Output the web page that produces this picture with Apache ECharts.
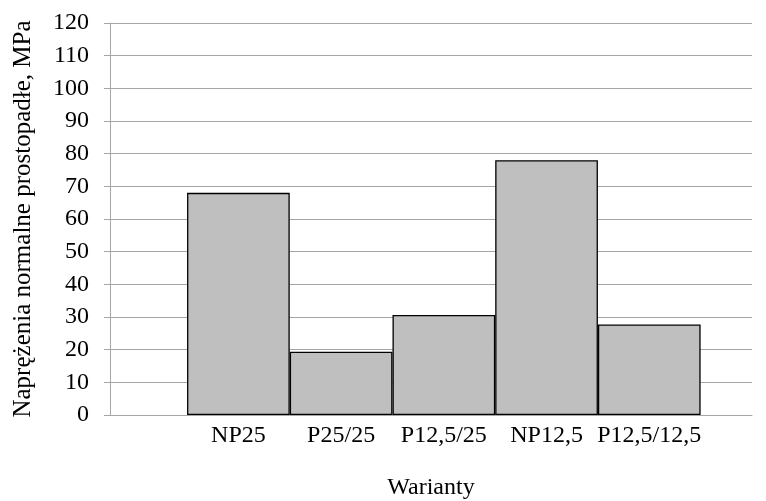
<!DOCTYPE html>
<html>
<head>
<meta charset="utf-8">
<script src="https://cdn.jsdelivr.net/npm/echarts@6/dist/echarts.min.js"></script>
<style>
  html, body { margin: 0; padding: 0; background: #fff; }
  #chart { width: 766px; height: 501px; }
</style>
</head>
<body>
<div id="chart"></div>
<script>
// Variants and their stresses (MPa)
const categories = ['NP25', 'P25/25', 'P12,5/25', 'NP12,5', 'P12,5/12,5'];
const values = [68, 19.4, 30.6, 78, 27.7];
const yTicks = [0, 10, 20, 30, 40, 50, 60, 70, 80, 90, 100, 110, 120];

const FONT = '"Liberation Serif", "Times New Roman", serif';
const GRID_COLOR = '#a6a6a6';

const chart = echarts.init(document.getElementById('chart'), null, { renderer: 'canvas' });

// Bars sit on a numeric x scale so each variant occupies one unit, touching its neighbours
const barData = values.map((v, i) => [i, v]);

chart.setOption({
  animation: false,
  backgroundColor: '#ffffff',
  grid: { left: 110, right: 14, top: 23, bottom: 86, containLabel: false, outerBoundsMode: 'none' },
  xAxis: {
    type: 'value',
    min: -1.25,
    max: 5,
    interval: 0.25,
    name: 'Warianty',
    nameLocation: 'middle',
    nameGap: 61,
    nameTextStyle: { fontFamily: FONT, fontSize: 24, color: '#000' },
    axisLine: { show: true, onZero: false, lineStyle: { color: GRID_COLOR, width: 1 } },
    axisTick: { show: false },
    splitLine: { show: false },
    axisLabel: {
      margin: 9,
      fontFamily: FONT,
      fontSize: 24,
      color: '#000',
      showMinLabel: false,
      showMaxLabel: false,
      formatter: function (val) {
        const idx = Math.round(val);
        return Math.abs(val - idx) < 1e-6 && idx >= 0 && idx < categories.length ? categories[idx] : '';
      }
    }
  },
  yAxis: {
    type: 'value',
    min: yTicks[0],
    max: yTicks[yTicks.length - 1],
    interval: yTicks[1] - yTicks[0],
    name: 'Naprężenia normalne prostopadłe, MPa',
    nameLocation: 'middle',
    nameGap: 74,
    nameRotate: 90,
    nameTextStyle: { fontFamily: FONT, fontSize: 25, color: '#000' },
    axisLine: { show: true, onZero: false, lineStyle: { color: GRID_COLOR, width: 1 } },
    axisTick: { show: true, inside: false, length: 6, lineStyle: { color: GRID_COLOR, width: 1 } },
    axisLabel: { margin: 21, fontFamily: FONT, fontSize: 24, color: '#000' },
    splitLine: { show: true, lineStyle: { color: GRID_COLOR, width: 1 } }
  },
  series: [{
    type: 'bar',
    data: barData,
    barWidth: 102.7,
    itemStyle: { color: '#bfbfbf', borderColor: '#000', borderWidth: 1.3 }
  }]
});
</script>
</body>
</html>
